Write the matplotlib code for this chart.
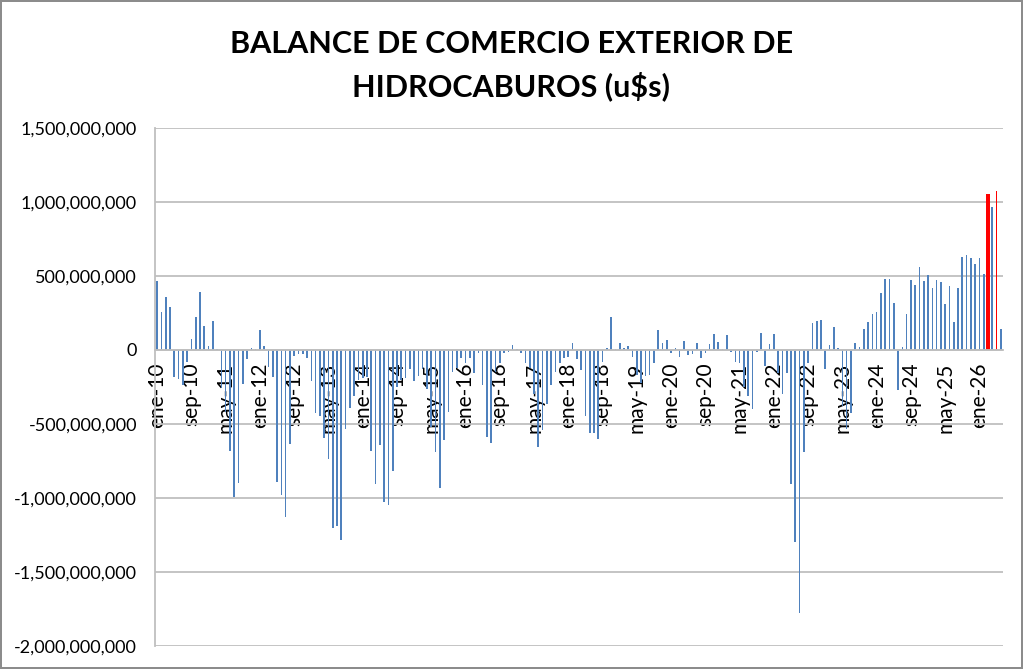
import numpy as np
import matplotlib
matplotlib.use('Agg')
import matplotlib.pyplot as plt
from matplotlib.ticker import FuncFormatter

# monthly balance, millions of u$s, ene-10 .. jun-26
balance_mm = [
    468, 259, 356, 290, -185, -194, -234, -79, 77, 221, 394, 162,
    27, 194, 9, -257, -420, -680, -991, -901, -230, -59, 11, 7,
    135, 25, -113, -185, -894, -980, -1128, -634, -40, -25, -29, -52,
    -209, -423, -446, -592, -734, -1200, -1189, -1286, -531, -390, -311, -200,
    -190, -180, -682, -908, -644, -1027, -1045, -817, -250, -200, -187, -131,
    -209, -176, -131, -266, -518, -690, -930, -608, -417, -146, -124, -56,
    -90, -56, -158, -22, -236, -585, -631, -150, -90, -22, -11, 34,
    5, -22, -90, -124, -300, -658, -540, -367, -236, -146, -90, -56,
    -45, 50, -63, -135, -446, -558, -563, -604, -80, 11, 221, 5,
    45, 11, 29, -50, -170, -221, -176, -169, -90, 135, 50, 68,
    -23, 11, -50, 63, -34, -27, 50, -56, -18, 38, 110, 54,
    9, 99, -14, -81, -90, -250, -311, -401, -14, 113, -108, 43,
    106, -153, -300, -153, -905, -1300, -1780, -690, -90, 180, 196, 203,
    -131, 32, 153, 16, -380, -536, -423, 50, 23, 140, 191, 243,
    257, 385, 477, 477, 315, -270, 23, 243, 471, 437, 561, 464,
    509, 417, 471, 459, 309, 430, 191, 419, 631, 642, 619, 579,
    624, 516, 1052, 968, 1072, 140,
]
highlight_thick = [194]
highlight_thin = [196]

tick_labels = ['ene-10', 'sep-10', 'may-11', 'ene-12', 'sep-12', 'may-13', 'ene-14',
               'sep-14', 'may-15', 'ene-16', 'sep-16', 'may-17', 'ene-18', 'sep-18',
               'may-19', 'ene-20', 'sep-20', 'may-21', 'ene-22', 'sep-22', 'may-23',
               'ene-24', 'sep-24', 'may-25', 'ene-26']
tick_step = 8

values = np.array(balance_mm) * 1e6
x = np.arange(len(values))

plt.rcParams['font.family'] = ['Lato', 'DejaVu Sans']

fig = plt.figure(figsize=(10.23, 6.69), dpi=100)
fig.patch.set_edgecolor('#8c8c8c')
fig.patch.set_linewidth(1.5)
ax = fig.add_axes([155 / 1023, 1 - 646 / 669, (1003 - 155) / 1023, (646 - 128) / 669])

blue = '#4F81BD'
grey = '#bfbfbf'
normal = [i for i in x if i not in highlight_thick + highlight_thin]
ax.bar(normal, values[normal], width=0.38, color=blue, linewidth=0)
ax.bar(highlight_thick, values[highlight_thick], width=0.75, color='#FF0000', linewidth=0)
ax.bar(highlight_thin, values[highlight_thin], width=0.3, color='#FF0000', linewidth=0)

for s in ['top', 'right']:
    ax.spines[s].set_visible(False)
ax.spines['bottom'].set_position(('data', 0))
ax.spines['bottom'].set_color(grey)
ax.spines['left'].set_color(grey)
ax.spines['bottom'].set_linewidth(1.3)
ax.spines['left'].set_linewidth(1.3)

ax.set_xlim(-0.5, len(values) - 0.5)
ax.set_ylim(-2e9, 1.5e9)
ax.set_yticks(np.arange(-2e9, 1.51e9, 5e8))
ax.yaxis.set_major_formatter(FuncFormatter(lambda v, p: f'{v:,.0f}'))
ax.grid(True, axis='y', color=grey, linewidth=1.3)
ax.set_axisbelow(True)

ax.set_xticks(np.arange(0, len(tick_labels) * tick_step, tick_step))
ax.set_xticklabels(tick_labels)
ax.tick_params(axis='x', length=0, pad=9, labelsize=15, labelrotation=90)
ax.tick_params(axis='y', length=0, pad=13, labelsize=13)

fig.text(0.5, 0.902, 'BALANCE DE COMERCIO EXTERIOR DE\nHIDROCABUROS (u$s)',
         ha='center', va='center', fontsize=22, fontweight='bold', linespacing=1.5)

fig.savefig('out.png', dpi=100)
